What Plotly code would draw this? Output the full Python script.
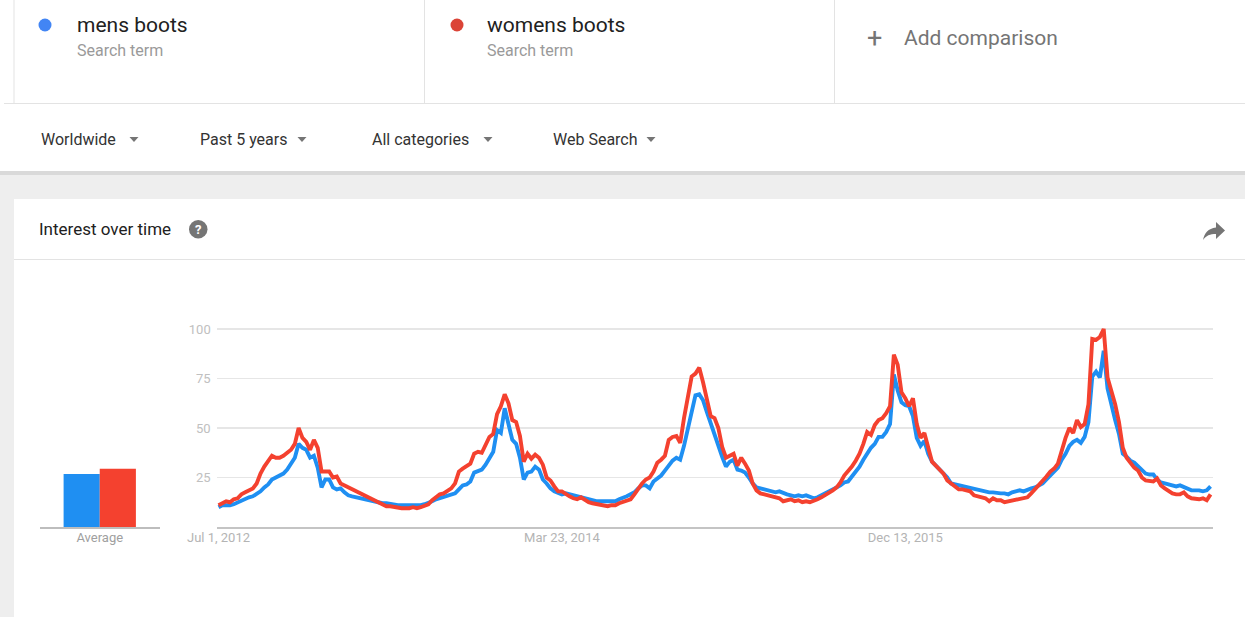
import plotly.graph_objects as go
import pandas as pd

W, H = 1245, 617


def px(x):
    return x / W


def py(y):
    return 1 - y / H


# ---------------- data ----------------
terms = ["mens boots", "womens boots"]
term_subtitle = "Search term"
filters = ["Worldwide", "Past 5 years", "All categories", "Web Search"]
start_week = "2012-07-01"

mens = [
    10, 11, 11, 11, 11.5, 12.5, 13, 14, 15, 15.5,
    16.5, 18, 20, 21.5, 24, 25, 26, 27, 29, 32,
    35, 42, 40, 39, 35, 36, 30, 20, 24, 24,
    20, 19, 19.5, 17.5, 16, 15.5, 15,
    15, 14.5, 14, 13.5, 13, 12.5, 12, 12, 11.5, 11.5,
    11, 11, 11, 11, 11, 11, 11, 11.5, 12, 13,
    14, 14.5, 15, 15.5, 16, 17, 19, 21, 21.5, 23,
    27.5, 28, 29, 31.5, 34.5, 38, 49,
    47.5, 60, 52, 44, 42, 35, 24, 27.5, 28, 30.5,
    29, 24, 22, 19.5, 18, 17, 16.5, 17, 16.5, 16,
    15, 14.5, 14, 13.5, 13.5, 13, 13, 13, 13, 13,
    13, 14, 14.5, 15.5, 16.5, 17.5, 19.5, 21,
    21, 19.5, 23, 24.5, 26, 28.5, 31, 33.5, 35, 34,
    41, 50, 58, 66.5, 67, 64, 58, 52, 47, 41,
    35.5, 30.5, 33, 34, 29, 28.5, 27.5, 25, 22, 20,
    19.5, 19, 18.5, 18, 17.5, 18, 17, 16.5,
    16, 15.5, 16, 15.5, 16, 15.5, 14.5, 15, 16, 17,
    18, 18.5, 19.5, 21, 22.5, 23, 25.5, 28, 30.5, 34,
    37, 40, 42, 45.5, 45.5, 48, 52, 77, 69, 63,
    61.5, 61, 56, 45, 41, 43.5, 37, 33,
    31, 29, 27.5, 25, 22, 21.5, 21, 20.5, 20.5, 19.5,
    19, 19, 18, 18, 17.5, 17.5, 17, 17, 17, 16.5,
    17.5, 18, 18.5, 18, 19, 19.5, 20, 21, 22, 24,
    26, 27.5, 30, 34, 37, 41, 43, 44,
    42.5, 45.5, 53, 76, 78.5, 75.5, 89, 70, 61, 54,
    47, 37, 35.5, 33.5, 32.5, 30.5, 28.5, 27, 26.5, 26.5,
    24, 22.5, 22, 21.5, 20.5, 20.5, 21, 20, 19.5, 18.5,
    18.5, 18.5, 18, 18.5, 20.5,
]

womens = [
    11, 12, 13, 12.5, 14, 14.5, 16.5, 17.5, 18.5, 19.5,
    22, 27, 30.5, 33, 36, 35, 35, 36, 37.5, 39,
    42, 50, 45, 43, 39, 44, 40, 28, 28, 28,
    25, 25.5, 22, 21, 20, 19, 18,
    17.5, 16.5, 15, 14, 13, 12, 11.5, 10.5, 10.5, 10,
    9.5, 9.5, 9.5, 9.5, 10, 9.5, 10, 10.5, 11.5, 13.5,
    15, 16.5, 17, 18, 19.5, 22, 28, 29.5, 30.5, 32,
    37, 38, 37.5, 41, 45.5, 47, 57,
    61, 67, 62.5, 54, 53, 46, 33, 37, 34.5, 36.5,
    35, 31.5, 25, 23.5, 20.5, 18, 18, 16.5, 15.5, 14.5,
    14, 15, 13.5, 12.5, 12, 11.5, 11.5, 11, 10.5, 11,
    11, 12, 12.5, 13, 14, 16.5, 19.5, 22,
    24, 25, 28, 32.5, 34, 36, 44, 45.5, 46, 42.5,
    55, 67, 76, 77.5, 80.5, 73, 65, 56, 55, 50,
    40.5, 35, 36, 37, 31, 35, 32, 28.5, 22, 18.5,
    17, 16.5, 15.5, 15, 14.5, 14.5, 13, 13.5,
    14, 13, 13.5, 12.5, 13, 12.5, 13, 14, 15, 16,
    17, 18.5, 20, 22.5, 26, 28, 30.5, 33.5, 37, 42,
    48, 46.5, 51.5, 54, 55, 57.5, 61, 87, 82, 68,
    65, 61, 65, 52, 45, 47.5, 41, 33,
    31, 29, 27, 23.5, 22, 20.5, 19, 19, 18.5, 18,
    16, 15.5, 15.5, 14.5, 13, 14.5, 13.5, 13.5, 12.5, 13,
    13.5, 14, 14.5, 15, 15, 17, 19, 21, 23, 25.5,
    28, 29.5, 32, 39, 45, 50, 47.5, 54,
    50.5, 52, 62, 95, 94.5, 96, 100, 75.5, 69, 62,
    53, 40, 35, 32.5, 30, 28.5, 25, 23.5, 23, 23,
    24.5, 21, 19.5, 18, 17, 16.5, 16.5, 17.5, 15.5, 14.5,
    14, 14, 14.5, 13.5, 16.5,
]

average_label = "Average"
average_mens = 26.8
average_womens = 29.4

x_tick_dates = ["2012-07-01", "2014-03-23", "2015-12-13"]
x_tick_labels = ["Jul 1, 2012", "Mar 23, 2014", "Dec 13, 2015"]
y_ticks = [25, 50, 75, 100]

weeks = pd.date_range(start_week, periods=len(mens), freq="7D")

# ---------------- styles ----------------
BLUE = "#1f8ff2"
RED = "#f4412f"
DOT_BLUE = "#4285f4"
DOT_RED = "#db4437"
FONT = "Roboto"

fig = go.Figure()

fig.add_trace(go.Scatter(
    x=weeks, y=mens, mode="lines", name=terms[0],
    line=dict(color=BLUE, width=3.9), hoverinfo="skip",
    xaxis="x", yaxis="y",
))
fig.add_trace(go.Scatter(
    x=weeks, y=womens, mode="lines", name=terms[1],
    line=dict(color=RED, width=3.9), hoverinfo="skip",
    xaxis="x", yaxis="y",
))
fig.add_trace(go.Bar(
    x=[average_label], y=[average_mens], marker=dict(color=BLUE, line=dict(width=0)),
    xaxis="x2", yaxis="y2", hoverinfo="skip",
))
fig.add_trace(go.Bar(
    x=[average_label], y=[average_womens], marker=dict(color=RED, line=dict(width=0)),
    xaxis="x2", yaxis="y2", hoverinfo="skip",
))

y_dom = [py(527), py(321.1)]

shapes = []


def rect(x0, y0, x1, y1, color):
    shapes.append(dict(type="rect", xref="paper", yref="paper",
                       x0=px(x0), x1=px(x1), y0=py(y1), y1=py(y0),
                       fillcolor=color, line=dict(width=0), layer="below"))


def hline(x0, x1, y, color, w=1):
    shapes.append(dict(type="line", xref="paper", yref="paper",
                       x0=px(x0), x1=px(x1), y0=py(y), y1=py(y),
                       line=dict(color=color, width=w), layer="below"))


def vline(x, y0, y1, color, w=1):
    shapes.append(dict(type="line", xref="paper", yref="paper",
                       x0=px(x), x1=px(x), y0=py(y0), y1=py(y1),
                       line=dict(color=color, width=w), layer="below"))


def path(cmds, color):
    parts = []
    for cmd, pts in cmds:
        coords = " ".join(f"{px(a):.5f},{py(b):.5f}" for a, b in pts)
        parts.append(f"{cmd} {coords}")
    d = " ".join(parts) + " Z"
    shapes.append(dict(type="path", xref="paper", yref="paper", path=d,
                       fillcolor=color, line=dict(width=0), layer="above"))


# page backgrounds
rect(0, 173, W, H, "#eeeeee")
rect(0, 171, W, 175, "#d9d9d9")
rect(14, 199, W, H, "#ffffff")
hline(14, W, 259.5, "#e3e3e3")
# term boxes
vline(14, 0, 103, "#e3e3e3")
vline(424.5, 0, 103, "#e3e3e3")
vline(834.5, 0, 103, "#e3e3e3")
hline(4, W, 103.5, "#e3e3e3")

# legend dots
for cx, col in [(45, DOT_BLUE), (457, DOT_RED)]:
    shapes.append(dict(type="circle", xref="paper", yref="paper",
                       x0=px(cx - 6.5), x1=px(cx + 6.5), y0=py(25 + 6.5), y1=py(25 - 6.5),
                       fillcolor=col, line=dict(width=0)))

# question icon
shapes.append(dict(type="circle", xref="paper", yref="paper",
                   x0=px(189), x1=px(207.5), y0=py(238.5), y1=py(220),
                   fillcolor="#757575", line=dict(width=0)))

# dropdown triangles
for cx in [134, 302, 488, 651]:
    path([("M", [(cx - 4.5, 137)]), ("L", [(cx + 4.5, 137)]), ("L", [(cx, 142)])], "#757575")

# share arrow
path([("M", [(1216, 222)]), ("L", [(1225, 230.5)]), ("L", [(1216, 239)]), ("L", [(1216, 234)]),
      ("C", [(1210, 234), (1206, 235.5), (1203, 240)]),
      ("C", [(1204.5, 233), (1208, 228.5), (1216, 227.5)])], "#757575")

annotations = []


def text(x, y, s, size, color, anchor="left", weight=None):
    f = dict(family=FONT, size=size, color=color)
    if weight:
        f["weight"] = weight
    annotations.append(dict(xref="paper", yref="paper", x=px(x), y=py(y), text=s,
                            showarrow=False, xanchor=anchor, yanchor="middle", font=f))


text(75, 25, terms[0], 21, "#212121")
text(75, 50, term_subtitle, 16, "#9a9a9a")
text(485, 25, terms[1], 21, "#212121")
text(485, 50, term_subtitle, 16, "#9a9a9a")
text(874, 38, "+", 27, "#757575", anchor="center")
text(902, 38, "Add comparison", 21, "#757575")

for xx, s in zip([39, 198, 370, 551], filters):
    text(xx, 139, s, 16, "#333333")

text(37, 229, "Interest over time", 17, "#212121")
text(198.3, 229.5, "?", 13, "#ffffff", anchor="center", weight="bold")

fig.update_layout(
    width=W, height=H, autosize=False,
    margin=dict(l=0, r=0, t=0, b=0, pad=0, autoexpand=False),
    paper_bgcolor="#ffffff", plot_bgcolor="rgba(0,0,0,0)",
    showlegend=False,
    barmode="group", bargap=0.395, bargroupgap=0,
    font=dict(family=FONT),
    shapes=shapes, annotations=annotations,
    xaxis=dict(
        type="date", domain=[px(216.7), px(1213)],
        range=["2012-06-27 16:00", "2017-06-29 12:00"],
        anchor="y", showgrid=False, zeroline=False, automargin=False,
        showline=True, linecolor="#c4c4c4", linewidth=1.5,
        tickvals=x_tick_dates, ticktext=x_tick_labels, ticks="",
        ticklabelstandoff=-2,
        tickfont=dict(family=FONT, size=13, color="#b4b4b4"),
        fixedrange=True,
    ),
    yaxis=dict(
        domain=y_dom, range=[0, 104], anchor="x", automargin=False,
        tickvals=y_ticks, ticks="", showgrid=True, gridcolor="#e6e6e6", gridwidth=1.3,
        zeroline=False, showline=False, ticklabelstandoff=5,
        tickfont=dict(family=FONT, size=13, color="#c0c0c0"),
        fixedrange=True,
    ),
    xaxis2=dict(
        domain=[px(40), px(159.5)], anchor="y2", type="category", automargin=False,
        showline=True, linecolor="#bdbdbd", linewidth=1.5, ticks="",
        ticklabelstandoff=-2,
        showgrid=False, zeroline=False,
        tickfont=dict(family=FONT, size=13, color="#a0a0a0"),
        fixedrange=True,
    ),
    yaxis2=dict(
        domain=y_dom, range=[0, 104], anchor="x2", visible=False, fixedrange=True,
        automargin=False,
    ),
)

fig.write_html(
    "out.html",
    config=dict(displayModeBar=False, staticPlot=True),
    post_script="document.body.style.margin='0';document.body.style.overflow='hidden';",
)
